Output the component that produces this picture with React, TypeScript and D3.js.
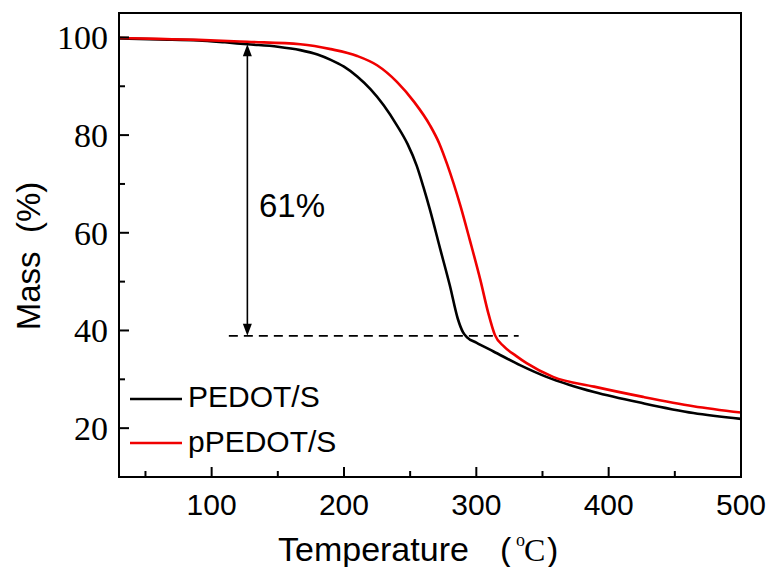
import React from "react";
import * as d3 from "d3";

// TGA data (temperature in °C, mass in %)
const pedotTemp = [30, 60, 90, 110, 127, 150, 167, 180, 190, 200, 210, 220, 230, 240, 248, 255, 260, 265, 273, 280, 286, 290, 293, 300, 313, 333, 353, 370, 389, 426, 464, 500];
const pedotMass = [99.8, 99.6, 99.4, 99.0, 98.6, 98.1, 97.4, 96.5, 95.4, 94.0, 92.0, 89.4, 86.1, 82.0, 78.2, 73.7, 69.4, 64.7, 56.4, 49.2, 42.4, 39.6, 38.6, 37.5, 35.7, 32.9, 30.5, 28.9, 27.4, 25.1, 23.1, 21.9];

const ppedotTemp = [30, 60, 90, 127, 167, 190, 210, 225, 240, 253, 265, 272, 278, 288, 295, 303, 309, 314, 321, 330, 338, 358, 389, 426, 464, 500];
const ppedotMass = [99.9, 99.7, 99.5, 99.1, 98.6, 97.6, 96.2, 94.3, 90.9, 86.8, 82.0, 78.3, 74.0, 65.5, 58.6, 50.4, 43.6, 39.1, 36.7, 34.8, 33.3, 30.5, 28.5, 26.4, 24.5, 23.2];

const seriesNames = ["PEDOT/S", "pPEDOT/S"];
const xMajor = [100, 200, 300, 400, 500];
const xMinor = [50, 150, 250, 350, 450];
const yMajor = [20, 40, 60, 80, 100];
const yMinor = [30, 50, 70, 90];

// annotation: mass loss marker
const arrowTemp = 127;
const arrowFrom = 98.6;
const arrowTo = 38.9;
const dashRange = [113, 332];
const lossLabel = "61%";

const W = 774;
const H = 567;
const m = { left: 119, right: 741, top: 13, bottom: 477 };

const sans = "'Liberation Sans', Arial, sans-serif";
const serif = "'Liberation Serif', 'Times New Roman', serif";
const redColor = "#f00000";

const App = () => {
  const x = d3.scaleLinear().domain([30, 500]).range([m.left, m.right]);
  const y = d3.scaleLinear().domain([10, 105]).range([m.bottom, m.top]);

  const line = d3
    .line<[number, number]>()
    .x(d => x(d[0]))
    .y(d => y(d[1]))
    .curve(d3.curveMonotoneX);

  const black = line(pedotTemp.map((t, i) => [t, pedotMass[i]]));
  const red = line(ppedotTemp.map((t, i) => [t, ppedotMass[i]]));

  const ax = x(arrowTemp);
  const ay1 = y(arrowFrom);
  const ay2 = y(arrowTo);

  return (
    <svg width={W} height={H} style={{ position: "absolute", left: 0, top: 0, background: "#fff" }}>
      <path d={black || ""} fill="none" stroke="#000" strokeWidth={2.6} />
      <path d={red || ""} fill="none" stroke={redColor} strokeWidth={2.6} />

      {/* dashed level line and double arrow */}
      <line
        x1={x(dashRange[0])}
        x2={x(dashRange[1])}
        y1={ay2}
        y2={ay2}
        stroke="#000"
        strokeWidth={1.6}
        strokeDasharray="9,6"
      />
      <line x1={ax} x2={ax} y1={ay1 + 10} y2={ay2 - 10} stroke="#000" strokeWidth={1.6} />
      <path d={`M${ax},${ay1} L${ax - 4.5},${ay1 + 12} L${ax + 4.5},${ay1 + 12} Z`} fill="#000" />
      <path d={`M${ax},${ay2} L${ax - 4.5},${ay2 - 12} L${ax + 4.5},${ay2 - 12} Z`} fill="#000" />
      <text x={259} y={217} fontFamily={sans} fontSize={33}>{lossLabel}</text>

      {/* frame */}
      <rect
        x={m.left}
        y={m.top}
        width={m.right - m.left}
        height={m.bottom - m.top}
        fill="none"
        stroke="#000"
        strokeWidth={2}
      />

      {/* x ticks */}
      {xMajor.map(t => (
        <g key={"xM" + t}>
          <line x1={x(t)} x2={x(t)} y1={m.bottom} y2={m.bottom - 10} stroke="#000" strokeWidth={2} />
          <text x={x(t)} y={515} textAnchor="middle" fontFamily={sans} fontSize={30}>{t}</text>
        </g>
      ))}
      {xMinor.map(t => (
        <line key={"xm" + t} x1={x(t)} x2={x(t)} y1={m.bottom} y2={m.bottom - 6} stroke="#000" strokeWidth={2} />
      ))}

      {/* y ticks */}
      {yMajor.map(v => (
        <g key={"yM" + v}>
          <line x1={m.left} x2={m.left + 10} y1={y(v)} y2={y(v)} stroke="#000" strokeWidth={2} />
          <text x={108} y={y(v)} dy="0.35em" textAnchor="end" fontFamily={serif} fontSize={34}>{v}</text>
        </g>
      ))}
      {yMinor.map(v => (
        <line key={"ym" + v} x1={m.left} x2={m.left + 6} y1={y(v)} y2={y(v)} stroke="#000" strokeWidth={2} />
      ))}

      {/* legend */}
      <line x1={130} x2={182} y1={399} y2={399} stroke="#000" strokeWidth={2.6} />
      <text x={188} y={407} fontFamily={sans} fontSize={30}>{seriesNames[0]}</text>
      <line x1={130} x2={182} y1={443} y2={443} stroke={redColor} strokeWidth={2.6} />
      <text x={188} y={452} fontFamily={sans} fontSize={30}>{seriesNames[1]}</text>

      {/* axis titles */}
      <text
        transform={`translate(40,256) rotate(-90)`}
        textAnchor="middle"
        fontFamily={sans}
        fontSize={33}
        style={{ whiteSpace: "pre" }}
      >
        {"Mass  (%)"}
      </text>
      <text x={278} y={561} fontFamily={sans} fontSize={34}>Temperature</text>
      <text x={500} y={561} fontFamily={sans} fontSize={34}>(</text>
      <text x={516} y={546} fontFamily={serif} fontSize={18}>o</text>
      <text x={524} y={561} fontFamily={serif} fontSize={32}>C</text>
      <text x={547} y={561} fontFamily={sans} fontSize={34}>)</text>
    </svg>
  );
};

export default App;
